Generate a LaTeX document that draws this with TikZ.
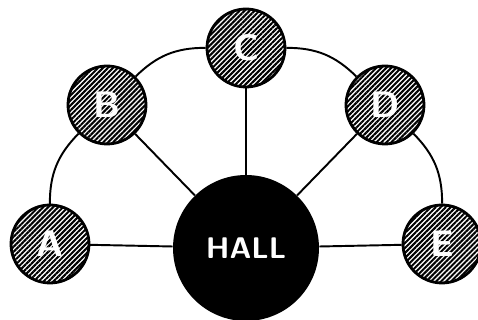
\documentclass[tikz,border=0pt]{standalone}
\usepackage{tikz}
\usetikzlibrary{patterns.meta}

\begin{document}
\begin{tikzpicture}[x=0.02cm,y=0.02cm,
    room/.style={circle,draw,line width=1.6pt,minimum size=1.56cm,inner sep=0pt,
      preaction={fill=white},pattern={Lines[angle=45,distance=2pt,line width=1.15pt]},
      text=white,font=\sffamily\bfseries\fontsize{21}{21}\selectfont},
    link/.style={line width=1.1pt}]
    \useasboundingbox (0,0) rectangle (478,320);
    % central hall
    \node[circle,fill=black,minimum size=2.92cm,text=white,font=\sffamily\bfseries\fontsize{17}{17}\selectfont] (hall) at (246,72) {HALL};
    % rooms on the half circle
    \node[room] (a) at (50,76) {A};
    \node[room] (b) at (107,215) {B};
    \node[room] (c) at (246,272) {C};
    \node[room] (d) at (385,215) {D};
    \node[room] (e) at (442,76) {E};
    \draw[link] (hall) -- (a);
    \draw[link] (hall) -- (b);
    \draw[link] (hall) -- (c);
    \draw[link] (hall) -- (d);
    \draw[link] (hall) -- (e);
    \draw[link] (a) to[bend left=22.5] (b);
    \draw[link] (b) to[bend left=22.5] (c);
    \draw[link] (c) to[bend left=22.5] (d);
    \draw[link] (d) to[bend left=22.5] (e);
\end{tikzpicture}
\end{document}
